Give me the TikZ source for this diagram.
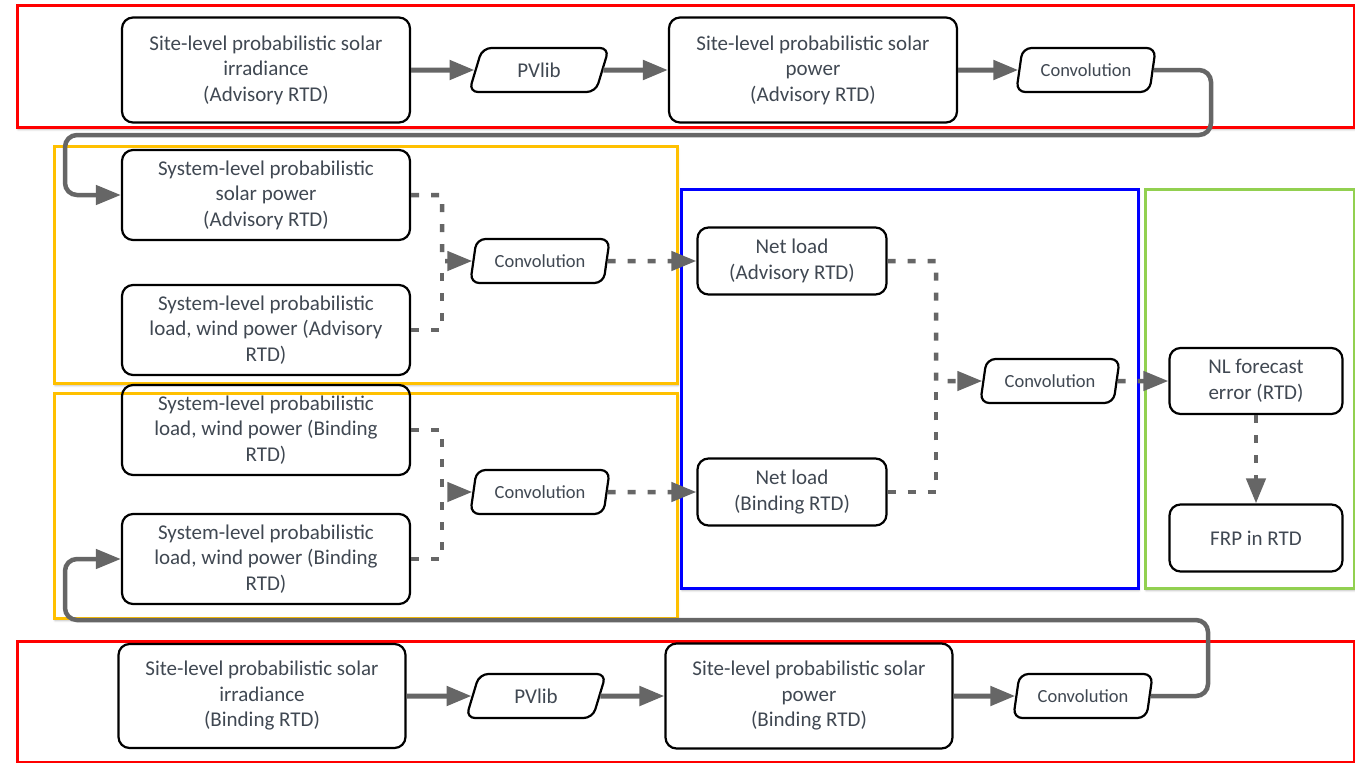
\documentclass[tikz,border=0pt]{standalone}
\usepackage{fontspec}
\setmainfont{Carlito}
\usetikzlibrary{shapes.geometric, positioning, arrows.meta, shadows.blur}
\definecolor{FrameRed}{RGB}{255, 0, 0}
\definecolor{FrameYellow}{RGB}{255, 192, 0}
\definecolor{FrameBlue}{RGB}{0, 0, 255}
\definecolor{FrameGreen}{RGB}{146, 208, 80}
\definecolor{LinkGray}{RGB}{102, 102, 102}
\definecolor{TextGray}{RGB}{64, 72, 82}

\tikzset{
  stagebox/.style={draw=black, line width=2.2pt, rounded corners=11pt,
                   align=center, text=TextGray, inner sep=0pt,
                   font=\fontsize{21}{25.5}\selectfont},
  opbox/.style={trapezium, trapezium left angle=71, trapezium right angle=109,
                trapezium stretches=true, draw=black, line width=2.2pt,
                rounded corners=9pt, minimum width=140pt, minimum height=44pt,
                inner sep=0pt, text=TextGray},
  zone/.style={line width=3pt, fill=white,
               blur shadow={shadow xshift=1pt, shadow yshift=-2.5pt,
                            shadow blur radius=2pt, shadow opacity=30}},
  flow/.style={draw=LinkGray, line width=5pt,
               -{Triangle[length=25pt, width=19pt]}},
  dotflow/.style={flow, line width=4.5pt, dash pattern=on 8pt off 12pt},
  dotline/.style={draw=LinkGray, line width=4.5pt, dash pattern=on 8pt off 12pt},
}

\begin{document}
\begin{tikzpicture}[x=1pt, y=-1pt]
  \useasboundingbox (0,0) rectangle (1355,763);

  % Coloured zones
  \draw[zone, draw=FrameRed] (17,5) rectangle (1354,127);
  \draw[zone, draw=FrameYellow] (54,146) rectangle (677,383);
  \draw[zone, draw=FrameYellow] (54,393) rectangle (677,618);
  \draw[zone, draw=FrameBlue] (681,189) rectangle (1138,588);
  \draw[zone, draw=FrameGreen] (1145,189) rectangle (1354,588);
  \draw[zone, draw=FrameRed] (17,641) rectangle (1354,762);

  % Advisory site-level chain (top row)
  \node[stagebox, minimum width=288pt, minimum height=105pt] (A1) at (266,70)
       {Site-level probabilistic solar\\irradiance\\(Advisory RTD)};
  \node[opbox, font=\fontsize{21}{24}\selectfont] (PV1) at (539,70) {PVlib};
  \node[stagebox, minimum width=288pt, minimum height=105pt] (A2) at (813,70)
       {Site-level probabilistic solar\\power\\(Advisory RTD)};
  \node[opbox, font=\fontsize{18.5}{20}\selectfont] (CV1) at (1086,70) {Convolution};

  % Advisory system-level inputs
  \node[stagebox, minimum width=288pt, minimum height=90pt] (B1) at (266,195)
       {System-level probabilistic\\solar power\\(Advisory RTD)};
  \node[stagebox, minimum width=288pt, minimum height=90pt] (B2) at (266,330)
       {System-level probabilistic\\load, wind power (Advisory\\RTD)};
  \node[opbox, font=\fontsize{18.5}{20}\selectfont] (CV2) at (540,261) {Convolution};

  % Binding system-level inputs
  \node[stagebox, minimum width=288pt, minimum height=90pt] (C1) at (266,430)
       {System-level probabilistic\\load, wind power (Binding\\RTD)};
  \node[stagebox, minimum width=288pt, minimum height=90pt] (C2) at (266,559)
       {System-level probabilistic\\load, wind power (Binding\\RTD)};
  \node[opbox, font=\fontsize{18.5}{20}\selectfont] (CV4) at (540,492) {Convolution};

  % Net load and FRP
  \node[stagebox, minimum width=189pt, minimum height=67pt] (NL1) at (792,261)
       {Net load\\(Advisory RTD)};
  \node[stagebox, minimum width=189pt, minimum height=67pt] (NL2) at (792,492)
       {Net load\\(Binding RTD)};
  \node[opbox, font=\fontsize{18.5}{20}\selectfont] (CV3) at (1050,381) {Convolution};
  \node[stagebox, minimum width=173pt, minimum height=66pt] (NLF) at (1256,381)
       {NL forecast\\error (RTD)};
  \node[stagebox, minimum width=173pt, minimum height=67pt] (FRP) at (1256,538)
       {FRP in RTD};

  % Binding site-level chain (bottom row)
  \node[stagebox, minimum width=287pt, minimum height=104pt] (D1) at (262,696)
       {Site-level probabilistic solar\\irradiance\\(Binding RTD)};
  \node[opbox, font=\fontsize{21}{24}\selectfont] (PV2) at (536,696) {PVlib};
  \node[stagebox, minimum width=287pt, minimum height=105pt] (D2) at (809,696)
       {Site-level probabilistic solar\\power\\(Binding RTD)};
  \node[opbox, font=\fontsize{18.5}{20}\selectfont] (CV5) at (1083,696) {Convolution};

  % Solid chains
  \foreach \a/\b in {A1/PV1, PV1/A2, A2/CV1, D1/PV2, PV2/D2, D2/CV5} {
    \draw[flow] (\a) -- (\b);
  }

  % Loops back into the system-level boxes
  \coordinate (loopA) at (1211,135);
  \coordinate (loopB) at (65,135);
  \draw[flow, line width=4.5pt, rounded corners=12pt]
       (CV1.east) -| (loopA) -- (loopB) |- (B1.west);
  \coordinate (loopC) at (1208,620);
  \coordinate (loopD) at (65,620);
  \draw[flow, line width=4.5pt, rounded corners=12pt]
       (CV5.east) -| (loopC) -- (loopD) |- (C2.west);

  % Dotted merges
  \coordinate (jA) at (442,261);
  \draw[dotflow] (B1.east) -| (jA) -- (CV2.west);
  \draw[dotline] (B2.east) -| (jA);
  \coordinate (jB) at (442,492);
  \draw[dotflow] (C1.east) -| (jB) -- (CV4.west);
  \draw[dotline] (C2.east) -| (jB);
  \coordinate (jC) at (936,381);
  \draw[dotflow] (NL1.east) -| (jC) -- (CV3.west);
  \draw[dotline] (NL2.east) -| (jC);

  \draw[dotflow] (CV2.east) -- (NL1.west);
  \draw[dotflow] (CV4.east) -- (NL2.west);
  \draw[dotflow] (CV3.east) -- (NLF.west);
  \draw[dotflow] (NLF.south) -- (FRP.north);
\end{tikzpicture}
\end{document}
